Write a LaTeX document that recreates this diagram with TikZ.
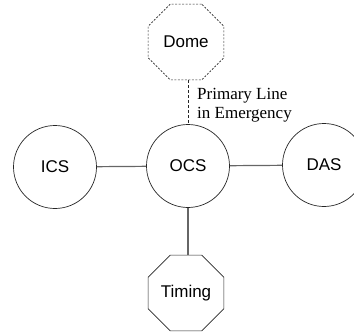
\documentclass[tikz,border=0pt]{standalone}
\usepackage{fontspec}
\setmainfont{Liberation Serif}
\newfontfamily\boxfont{Liberation Sans}
\usetikzlibrary{shapes.geometric}
\begin{document}
\begin{tikzpicture}[x=1pt,y=-1pt,
  unit/.style={circle,draw=black!85,line width=0.7pt,minimum size=83pt,inner sep=0pt,
    font=\boxfont\fontsize{17}{20}\selectfont},
  octo/.style={regular polygon,regular polygon sides=8,draw=black!85,line width=0.7pt,
    minimum size=82pt,inner sep=0pt,font=\boxfont\fontsize{17}{20}\selectfont},
  link/.style={draw=black!60,line width=1.2pt},
  emlink/.style={draw=black!85,line width=0.7pt,dash pattern=on 3pt off 2pt}]
\useasboundingbox (0,0) rectangle (354,333);
% central observatory control system and its peers
\node[unit] (ocs) at (188,166) {OCS};
\node[unit] (ics) at (55,167) {ICS};
\node[unit] (das) at (324,165) {DAS};
\node[octo,dash pattern=on 2pt off 1.5pt] (dome) at (186,42) {Dome};
\node[octo] (timing) at (186,293) {Timing};
% connections
\draw[link] (ics) -- (ocs);
\draw[link] (ocs) -- (das);
\draw[link] (ocs.south) -- (ocs.south |- timing.north);
\draw[emlink] (dome.south -| ocs.north) -- (ocs.north);
\node[anchor=west,align=left,inner sep=0pt,font=\fontsize{17}{18.5}\selectfont]
  (note) at (197,105) {Primary Line\\in Emergency};
\end{tikzpicture}
\end{document}
